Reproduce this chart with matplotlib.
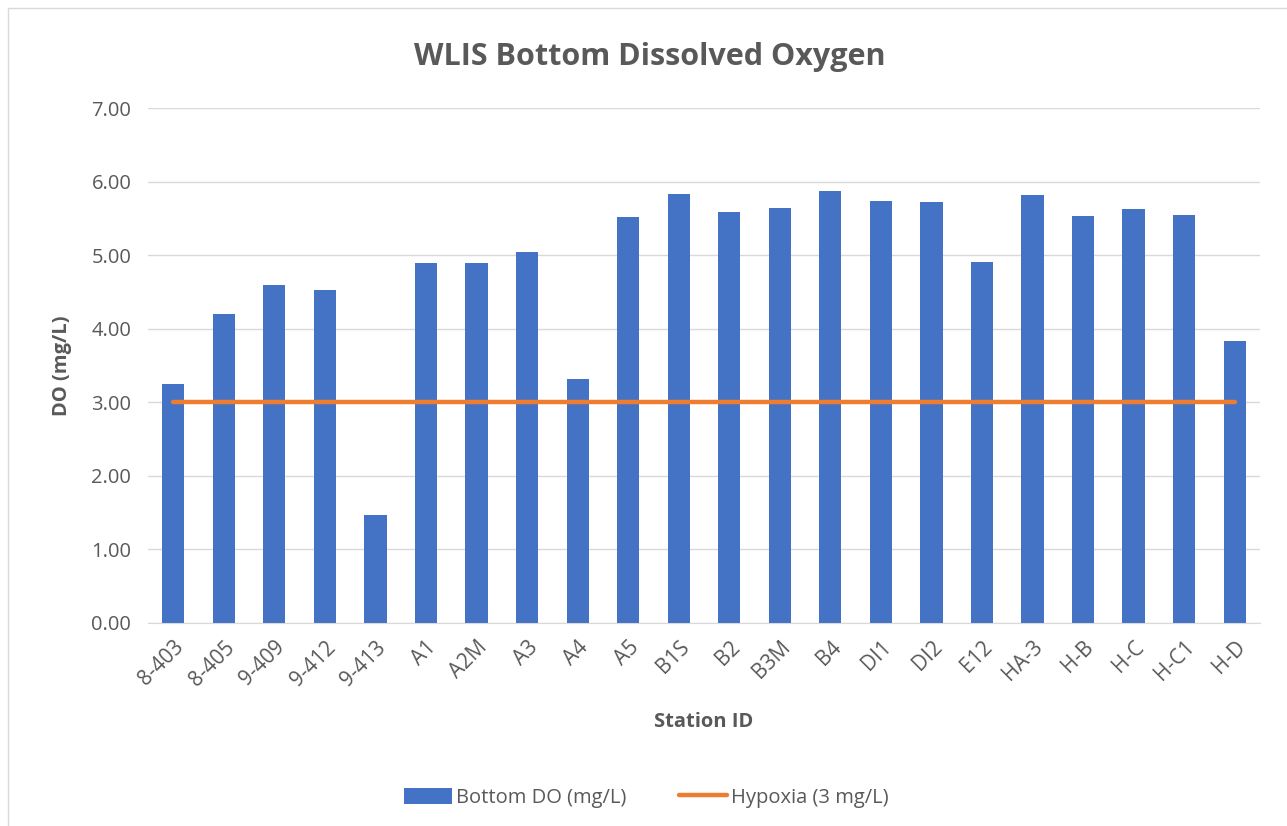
import matplotlib
matplotlib.use('Agg')
import matplotlib.pyplot as plt
import numpy as np
from matplotlib.patches import Rectangle

stations = ['8-403', '8-405', '9-409', '9-412', '9-413', 'A1', 'A2M', 'A3', 'A4', 'A5',
            'B1S', 'B2', 'B3M', 'B4', 'DI1', 'DI2', 'E12', 'HA-3', 'H-B', 'H-C', 'H-C1', 'H-D']
bottom_do = [3.25, 4.20, 4.59, 4.53, 1.47, 4.89, 4.90, 5.04, 3.32, 5.52,
             5.83, 5.59, 5.64, 5.87, 5.74, 5.72, 4.91, 5.82, 5.53, 5.63, 5.55, 3.83]
hypoxia = [3.0] * len(stations)

plt.rcParams['font.family'] = ['Open Sans', 'DejaVu Sans']
txt = '#595959'

fig = plt.figure(figsize=(12.87, 8.26), dpi=100)
fig.patches.append(Rectangle((8 / 1287, -0.01), 1.0, 1 - 8 / 826 + 0.01,
                             transform=fig.transFigure, fill=False,
                             edgecolor='#d9d9d9', linewidth=1))
ax = fig.add_axes([0.115, 0.246, 0.864, 0.623])

x = np.arange(len(stations))
bars = ax.bar(x, bottom_do, width=0.44, color='#4472C4', zorder=2)
line, = ax.plot(x, hypoxia, color='#ED7D31', linewidth=3.2, solid_capstyle='round', zorder=3)

ax.set_xlim(-0.5, len(stations) - 0.5)
ax.set_ylim(0, 7)
ax.set_yticks(np.arange(0, 7.01, 1))
ax.set_yticklabels([f'{v:.2f}' for v in np.arange(0, 7.01, 1)])
ax.set_xticks(x)
ax.set_xticklabels(stations, rotation=45, ha='right', rotation_mode='anchor')
ax.tick_params(colors=txt, labelsize=14.5, length=0, pad=12)
ax.tick_params(axis='x', labelsize=15, pad=10)
ax.grid(axis='y', color='#d9d9d9', linewidth=1, zorder=0)
for s in ['top', 'right', 'left']:
    ax.spines[s].set_visible(False)
ax.spines['bottom'].set_color('#d9d9d9')

fig.suptitle('WLIS Bottom Dissolved Oxygen', color=txt, fontsize=22,
             fontweight='bold', x=0.505, y=0.949)
ax.set_ylabel('DO (mg/L)', color=txt, fontsize=14.5, fontweight='bold', labelpad=14)
ax.set_xlabel('Station ID', color=txt, fontsize=14.5, fontweight='bold', labelpad=16)

ax.legend([bars, line], ['Bottom DO (mg/L)', 'Hypoxia (3 mg/L)'],
          loc='center', bbox_to_anchor=(0.448, -0.34), ncol=2, frameon=False,
          fontsize=14.5, labelcolor=txt, handlelength=2.4, handleheight=0.9,
          handletextpad=0.2, columnspacing=2.6)

fig.savefig('out.png', dpi=100, facecolor='white')
